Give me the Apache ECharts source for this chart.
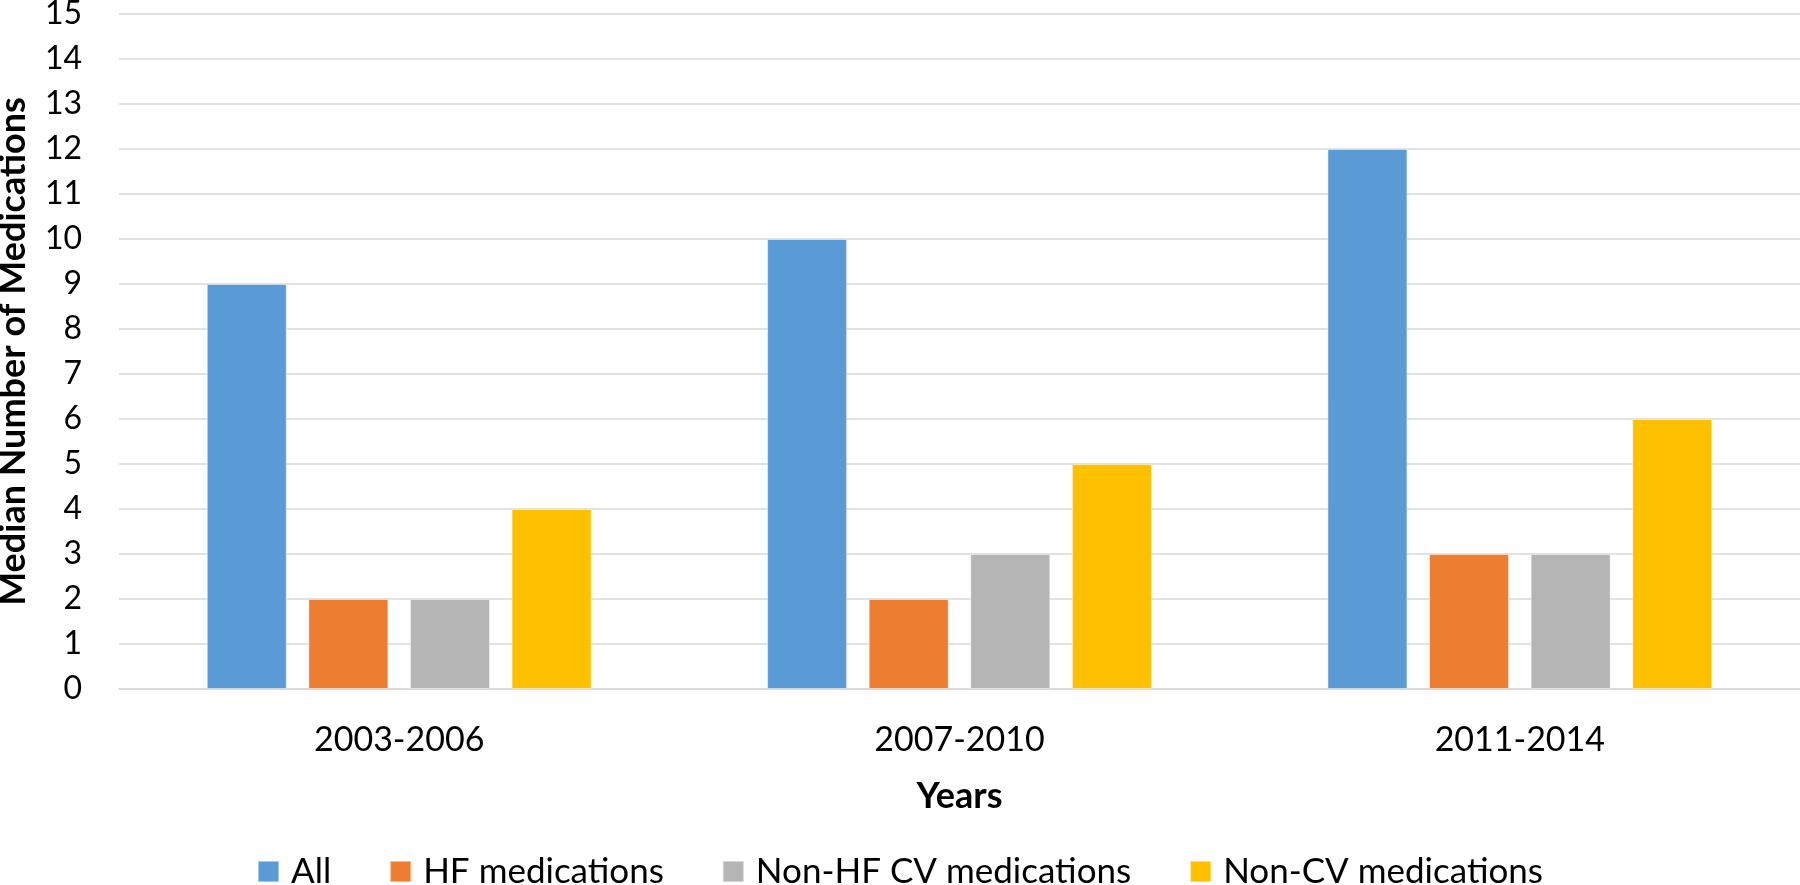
<!DOCTYPE html>
<html>
<head>
<meta charset="utf-8">
<script src="https://cdn.jsdelivr.net/npm/echarts@6/dist/echarts.min.js"></script>
<style>
html,body{margin:0;padding:0;background:#fff;}
#chart{width:1800px;height:885px;}
</style>
</head>
<body>
<div id="chart"></div>
<script>
const categories = ['2003-2006', '2007-2010', '2011-2014'];
const seriesNames = ['All', 'HF medications', 'Non-HF CV medications', 'Non-CV medications'];
const allMeds = [9, 10, 12];
const hfMeds = [2, 2, 3];
const nonHfCvMeds = [2, 3, 3];
const nonCvMeds = [4, 5, 6];
const yTicks = { min: 0, max: 15, interval: 1 };

const colors = ['#5B9BD5', '#ED7D31', '#B5B5B5', '#FFC000'];
const values = [allMeds, hfMeds, nonHfCvMeds, nonCvMeds];
const FONT = 'Lato';

const chart = echarts.init(document.getElementById('chart'));
chart.setOption({
  animation: false,
  backgroundColor: '#fff',
  color: colors,
  grid: { left: 119, right: 0, top: 14, bottom: 196, containLabel: false, outerBoundsMode: 'none' },
  legend: {
    top: 849,
    left: 'center',
    itemWidth: 21,
    itemHeight: 21,
    itemGap: 58,
    icon: 'rect',
    textStyle: { fontFamily: FONT, fontSize: 35, color: '#000', lineHeight: 35, padding: [0, 0, 0, 7] },
    data: seriesNames
  },
  xAxis: {
    type: 'category',
    data: categories,
    name: 'Years',
    nameLocation: 'middle',
    nameGap: 89,
    nameTextStyle: { fontFamily: FONT, fontSize: 36, fontWeight: 'bold', color: '#000' },
    axisLine: { show: true, lineStyle: { color: '#D9D9D9', width: 1.5 } },
    axisTick: { show: false },
    axisLabel: { margin: 34, fontFamily: FONT, fontSize: 34, color: '#000' }
  },
  yAxis: {
    type: 'value',
    min: yTicks.min,
    max: yTicks.max,
    interval: yTicks.interval,
    name: 'Median Number of Medications',
    nameLocation: 'middle',
    nameGap: 88,
    nameTextStyle: { fontFamily: FONT, fontSize: 36, fontWeight: 'bold', color: '#000' },
    axisLine: { show: false },
    axisTick: { show: false },
    axisLabel: { margin: 37, fontFamily: FONT, fontSize: 32, color: '#000' },
    splitLine: { show: true, lineStyle: { color: '#D9D9D9', width: 1.5 } }
  },
  series: seriesNames.map((n, i) => ({
    name: n,
    type: 'bar',
    data: values[i],
    barWidth: 80,
    barGap: '27%',
    itemStyle: { color: colors[i], borderColor: 'rgba(255,255,255,0.45)', borderWidth: 1 }
  }))
});
</script>
</body>
</html>
